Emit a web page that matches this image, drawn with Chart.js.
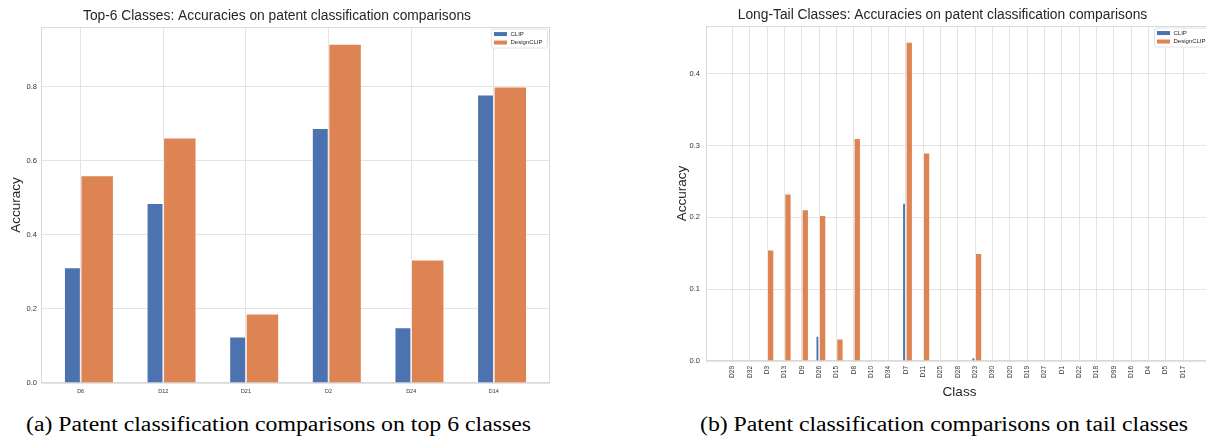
<!DOCTYPE html>
<html>
<head>
<meta charset="utf-8">
<script src="https://cdn.jsdelivr.net/npm/chart.js@4.4.0/dist/chart.umd.min.js"></script>
<style>
body { margin: 0; width: 1206px; height: 436px; overflow: hidden; background: #fff; position: relative; }
.box { position: absolute; top: 0; height: 400px; }
#leftBox { left: 0; width: 560px; }
#rightBox { left: 600px; width: 620px; }
.cap { position: absolute; top: 414px; font-family: "Liberation Serif", "Times New Roman", serif; font-size: 20px; line-height: 20px; color: #000; white-space: nowrap; transform-origin: left top; }
</style>
</head>
<body>
<div class="box" id="leftBox"><canvas id="leftChart"></canvas></div>
<div class="box" id="rightBox"><canvas id="rightChart"></canvas></div>
<div class="cap" id="capA" style="left:26px">(a) Patent classification comparisons on top 6 classes</div>
<div class="cap" id="capB" style="left:700px">(b) Patent classification comparisons on tail classes</div>
<script>
// data
let seriesNames = ["CLIP", "DesignCLIP"];
let seriesColors = ["#4c72b0", "#dd8452"];

let topClasses = ["D6", "D12", "D21", "D2", "D24", "D14"];
let topClip = [0.312, 0.485, 0.125, 0.688, 0.150, 0.778];
let topDesign = [0.560, 0.662, 0.187, 0.915, 0.333, 0.800];
let topYTicks = [0, 0.2, 0.4, 0.6, 0.8];

let tailClasses = ["D29", "D32", "D3", "D13", "D9", "D26", "D15", "D8", "D10", "D34", "D7", "D11", "D25", "D28",
    "D23", "D30", "D20", "D19", "D27", "D1", "D22", "D18", "D99", "D16", "D4", "D5", "D17"];
let tailClip = [0, 0, 0, 0, 0, 0.035, 0, 0, 0, 0, 0.220, 0, 0, 0,
    0.005, 0, 0, 0, 0, 0, 0, 0, 0, 0, 0, 0, 0];
let tailDesign = [0, 0, 0.155, 0.233, 0.211, 0.203, 0.031, 0.310, 0, 0, 0.444, 0.290, 0, 0,
    0.150, 0, 0, 0, 0, 0, 0, 0, 0, 0, 0, 0, 0];
let tailYTicks = [0, 0.1, 0.2, 0.3, 0.4];

const FONT = '"Liberation Sans", Arial, sans-serif';
const GRID = '#e3e3e3';

// matplotlib-like frame round the plot area
const framePlugin = {
    id: 'frame',
    beforeDatasetsDraw(chart) {
        let a = chart.chartArea, ctx = chart.ctx;
        ctx.save();
        ctx.strokeStyle = '#d9d9d9';
        ctx.lineWidth = 1;
        ctx.strokeRect(a.left + 0.5, a.top + 0.5, a.right - a.left - 1, a.bottom - a.top - 1);
        ctx.restore();
    }
};

// legend box in the upper right of the plot
const boxLegend = {
    id: 'boxLegend',
    afterDraw(chart) {
        let ctx = chart.ctx, a = chart.chartArea, ds = chart.data.datasets;
        ctx.save();
        ctx.font = '6px ' + FONT;
        let tw = Math.max(...ds.map(d => ctx.measureText(d.label).width));
        let w = tw + 24, h = 19;
        let x = a.right - 2.5 - w, y = a.top + 2;
        ctx.fillStyle = 'rgba(255,255,255,0.85)';
        ctx.strokeStyle = '#dddddd';
        ctx.lineWidth = 0.8;
        ctx.beginPath();
        ctx.roundRect(x, y, w, h, 2);
        ctx.fill();
        ctx.stroke();
        ds.forEach((d, i) => {
            let ly = y + 5 + i * 8.5;
            ctx.fillStyle = d.backgroundColor;
            ctx.fillRect(x + 2.5, ly - 2, 13, 4);
            ctx.fillStyle = '#262626';
            ctx.textBaseline = 'middle';
            ctx.fillText(d.label, x + 19, ly);
        });
        ctx.restore();
    }
};

function makeChart(canvasId, o) {
    let n = o.classes.length;
    // bars span i-0.2 .. i+0.4, plus a 5% margin like matplotlib
    let lo = -0.2, hi = n - 1 + 0.4, m = (hi - lo) * 0.05;
    let yMax = Math.max(...o.clip, ...o.design) * 1.05;
    let toXY = arr => arr.map((v, i) => ({ x: i, y: v }));

    return new Chart(document.querySelector(canvasId), {
        type: 'bar',
        data: {
            datasets: [{
                label: seriesNames[0],
                data: toXY(o.clip),
                backgroundColor: seriesColors[0],
                borderColor: 'rgba(255,255,255,0.55)',
                borderWidth: 0.8,
                categoryPercentage: 0.4,
                barPercentage: 1.0
            }, {
                label: seriesNames[1],
                data: toXY(o.design),
                backgroundColor: seriesColors[1],
                borderColor: 'rgba(255,255,255,0.55)',
                borderWidth: 0.8,
                categoryPercentage: 0.8,
                barPercentage: 1.0
            }]
        },
        options: {
            responsive: true,
            maintainAspectRatio: false,
            animation: false,
            layout: { padding: o.padding },
            plugins: {
                legend: { display: false },
                tooltip: { enabled: false },
                title: {
                    display: true,
                    text: o.title,
                    color: '#262626',
                    font: { family: FONT, size: 13.8, weight: 'normal' },
                    padding: { top: o.titleTop, bottom: 2.5 }
                }
            },
            scales: {
                x: {
                    type: 'linear',
                    min: lo - m,
                    max: hi + m,
                    offset: false,
                    afterBuildTicks: s => { s.ticks = o.classes.map((c, i) => ({ value: i })); },
                    afterFit: s => { s.height = o.xHeight; },
                    grid: { color: GRID, offset: false, drawTicks: false },
                    border: { display: false },
                    ticks: {
                        autoSkip: false,
                        padding: o.xPad,
                        minRotation: o.rot,
                        maxRotation: o.rot,
                        color: '#333',
                        font: { family: FONT, size: o.xFont },
                        callback: v => o.classes[v]
                    },
                    title: {
                        display: !!o.xTitle,
                        text: o.xTitle,
                        color: '#262626',
                        font: { family: FONT, size: 13.5 },
                        padding: { top: 0, bottom: 0 }
                    }
                },
                y: {
                    min: 0,
                    max: yMax,
                    afterBuildTicks: s => { s.ticks = o.yTicks.map(v => ({ value: v })); },
                    afterFit: s => { s.width = o.yWidth; },
                    grid: { color: GRID, drawTicks: false },
                    border: { display: false },
                    ticks: {
                        padding: o.yPad,
                        color: '#333',
                        font: { family: FONT, size: 7.5 },
                        callback: v => v.toFixed(1)
                    },
                    title: {
                        display: true,
                        text: 'Accuracy',
                        color: '#262626',
                        font: { family: FONT, size: 13.5 },
                        padding: { top: o.yTitlePad, bottom: 0 }
                    }
                }
            }
        },
        plugins: [framePlugin, boxLegend]
    });
}

makeChart('#leftChart', {
    classes: topClasses, clip: topClip, design: topDesign, yTicks: topYTicks,
    title: 'Top-6 Classes: Accuracies on patent classification comparisons',
    padding: { left: 4, right: 10, top: 0, bottom: 0 },
    titleTop: 8, yWidth: 37, yPad: 4, yTitlePad: 4,
    xHeight: 17, xPad: 5, xFont: 5.5, rot: 0, xTitle: ''
});

makeChart('#rightChart', {
    classes: tailClasses, clip: tailClip, design: tailDesign, yTicks: tailYTicks,
    title: 'Long-Tail Classes: Accuracies on patent classification comparisons',
    padding: { left: 72, right: 7, top: 0, bottom: 0 },
    titleTop: 7, yWidth: 34, yPad: 6, yTitlePad: 2,
    xHeight: 39, xPad: 5, xFont: 6.5, rot: 90, xTitle: 'Class'
});

// squeeze the captions to the width they have in the figure
[['#capA', 505], ['#capB', 488]].forEach(([id, w]) => {
    let el = document.querySelector(id);
    el.style.transform = 'scaleX(' + (w / el.getBoundingClientRect().width) + ')';
});
</script>
</body>
</html>
